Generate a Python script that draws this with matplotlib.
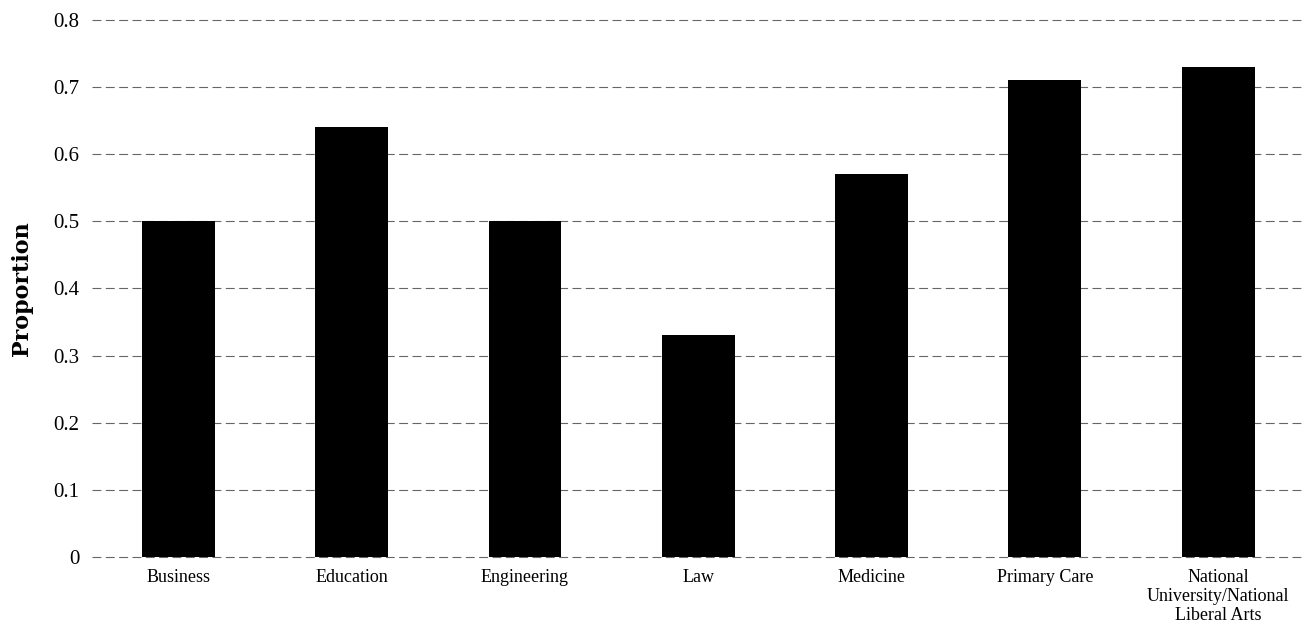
import numpy as np
import matplotlib
matplotlib.use("Agg")
import matplotlib.pyplot as plt

# proportion by field
fields = ["Business", "Education", "Engineering", "Law", "Medicine",
          "Primary Care", "National\nUniversity/National\nLiberal Arts"]
proportions = [0.50, 0.64, 0.50, 0.33, 0.57, 0.71, 0.73]
yticks = [0, 0.1, 0.2, 0.3, 0.4, 0.5, 0.6, 0.7, 0.8]
ytick_labels = ["0", "0.1", "0.2", "0.3", "0.4", "0.5", "0.6", "0.7", "0.8"]

plt.rcParams['font.family'] = ['Liberation Serif', 'DejaVu Serif']

fig = plt.figure(figsize=(13.1, 6.38), dpi=100)
ax = fig.add_axes([0.070, 0.127, 0.926, 0.842])

x = np.arange(len(fields))
ax.bar(x, proportions, width=0.42, color='black', zorder=3)

ax.set_xlim(-0.5, len(fields) - 0.5)
ax.set_ylim(0, 0.8)
ax.set_yticks(yticks)
ax.set_yticklabels(ytick_labels, fontsize=15)
ax.set_xticks(x)
ax.set_xticklabels(fields, fontsize=13, linespacing=1.15)
ax.tick_params(axis='both', length=0)
ax.tick_params(axis='y', pad=9)
ax.tick_params(axis='x', pad=9)

ax.yaxis.grid(True, color='#666666', linestyle=(0, (8, 4)), linewidth=0.8, zorder=0)
for gl in ax.get_ygridlines():
    gl.set_clip_on(False)
for side in ['top', 'right', 'left', 'bottom']:
    ax.spines[side].set_visible(False)

ax.set_ylabel("Proportion", fontsize=16, fontweight='bold',
              family=['DejaVu Serif'])
ax.yaxis.set_label_coords(-0.048, 0.50)

fig.savefig("out.png", dpi=100)
